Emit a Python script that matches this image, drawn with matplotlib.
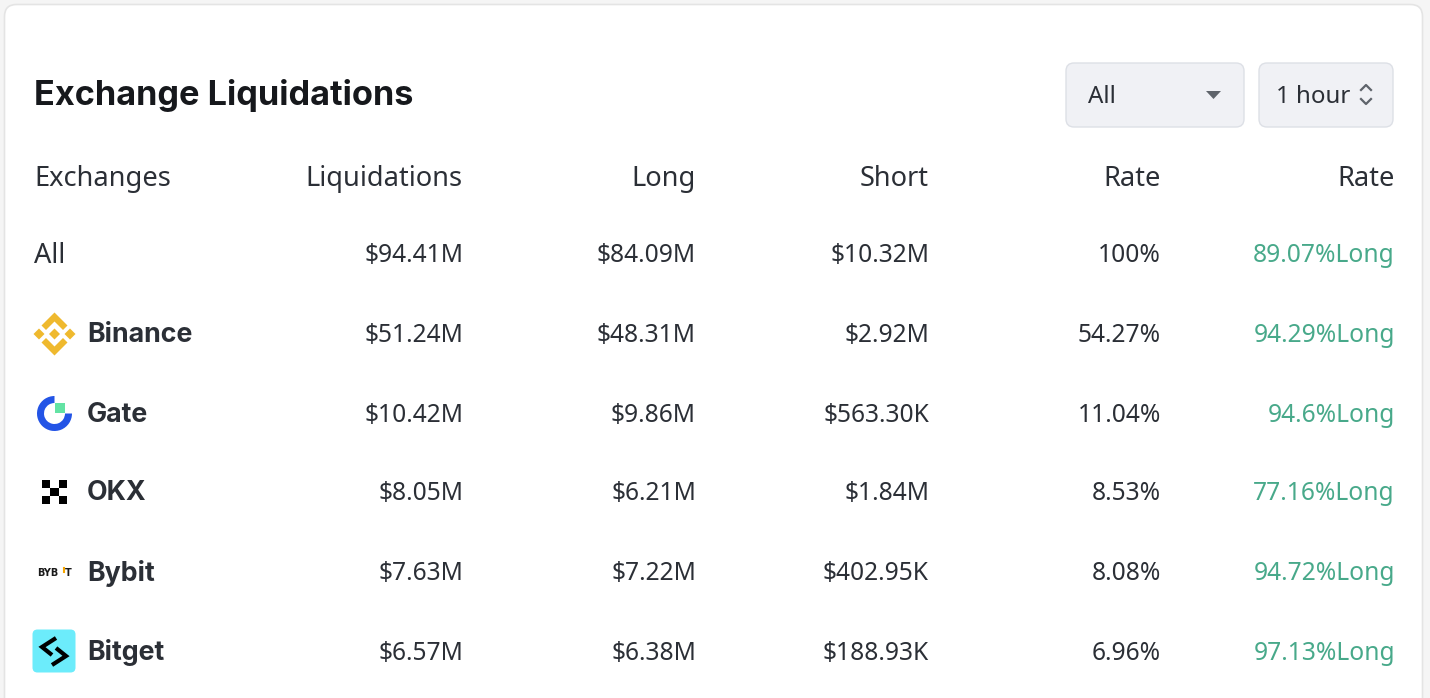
import matplotlib
matplotlib.use("Agg")
import matplotlib.pyplot as plt
from matplotlib.patches import FancyBboxPatch, Polygon, Wedge, Rectangle
from matplotlib.lines import Line2D

title = "Exchange Liquidations"
headers = ["Exchanges", "Liquidations", "Long", "Short", "Rate", "Rate"]
exchanges = ["All", "Binance", "Gate", "OKX", "Bybit", "Bitget"]
liquidations = ["$94.41M", "$51.24M", "$10.42M", "$8.05M", "$7.63M", "$6.57M"]
longs = ["$84.09M", "$48.31M", "$9.86M", "$6.21M", "$7.22M", "$6.38M"]
shorts = ["$10.32M", "$2.92M", "$563.30K", "$1.84M", "$402.95K", "$188.93K"]
rates = ["100%", "54.27%", "11.04%", "8.53%", "8.08%", "6.96%"]
long_rates = ["89.07%Long", "94.29%Long", "94.6%Long", "77.16%Long", "94.72%Long", "97.13%Long"]
dropdown_exchange = "All"
dropdown_period = "1 hour"

W, H = 1430, 698
fig = plt.figure(figsize=(W / 100, H / 100), dpi=100)
fig.patch.set_facecolor("#f5f5f5")
ax = fig.add_axes([0, 0, 1, 1])
ax.set_xlim(0, W)
ax.set_ylim(H, 0)
ax.axis("off")

BODY = ["Noto Sans", "DejaVu Sans"]
TITLE = ["Inter", "DejaVu Sans"]
DARK = "#2b2f36"
GREEN = "#48a98a"

# card
ax.add_patch(FancyBboxPatch((4.5, 4.5), 1418, 760, boxstyle="round,pad=0,rounding_size=12",
                            fc="white", ec="#e4e4e4", lw=1.2))

ax.text(34, 96, title, fontsize=24.7, fontweight="bold", family=TITLE, color="#16181c",
        va="center", ha="left")

# dropdowns
for (x0, x1), label in [((1066, 1244), dropdown_exchange), ((1259, 1393), dropdown_period)]:
    ax.add_patch(FancyBboxPatch((x0, 63), x1 - x0, 64, boxstyle="round,pad=0,rounding_size=8",
                                fc="#f0f1f5", ec="#dde0e6", lw=1.0))
    ax.text(x0 + (22 if label == dropdown_exchange else 17), 97, label, fontsize=17.3,
            family=BODY, color=DARK, va="center", ha="left")
ax.add_patch(Polygon([(1206, 91), (1221, 91), (1213.5, 99)], closed=True, fc="#5f646b", ec="none"))
ax.add_line(Line2D([1361, 1366, 1371], [90, 85, 90], color="#5f646b", lw=1.6))
ax.add_line(Line2D([1361, 1366, 1371], [99, 104, 99], color="#5f646b", lw=1.6))

# columns
right_x = [463, 696, 929, 1161, 1395]
header_y = 179
row_y = [256, 336, 415, 494, 574, 653]

ax.text(34, header_y, headers[0], fontsize=19.6, family=BODY, color=DARK, va="center", ha="left")
for h, rx in zip(headers[1:], right_x):
    ax.text(rx, header_y, h, fontsize=19.6, family=BODY, color=DARK, va="center", ha="right")

cols = [liquidations, longs, shorts, rates, long_rates]
for i, y in enumerate(row_y):
    name = exchanges[i]
    if i == 0:
        ax.text(34, y, name, fontsize=19.6, family=BODY, color=DARK, va="center", ha="left")
    else:
        ax.text(87, y - 0.5, name, fontsize=19.3, fontweight="bold", family=TITLE, color=DARK,
                va="center", ha="left")
    for j, (col, rx) in enumerate(zip(cols, right_x)):
        ax.text(rx, y, col[i], fontsize=17.7, family=BODY,
                color=GREEN if j == 4 else DARK, va="center", ha="right")

# logos (pixel positions of the drawn icons)
ly = [r - 2 for r in row_y]
# Binance
cx, cy = 54.5, ly[1]
gold = "#efb92e"
def diamond(x, y, r):
    return Polygon([(x, y - r), (x + r, y), (x, y + r), (x - r, y)], closed=True, fc=gold, ec="none")
ax.add_patch(diamond(cx, cy, 5.5))
ax.add_patch(diamond(cx - 15.5, cy, 5.5))
ax.add_patch(diamond(cx + 15.5, cy, 5.5))
ax.add_patch(Polygon([(cx, cy - 21.5), (cx + 13, cy - 8.5), (cx + 8.5, cy - 4), (cx, cy - 12.5),
                      (cx - 8.5, cy - 4), (cx - 13, cy - 8.5)], closed=True, fc=gold, ec="none"))
ax.add_patch(Polygon([(cx, cy + 21.5), (cx + 13, cy + 8.5), (cx + 8.5, cy + 4), (cx, cy + 12.5),
                      (cx - 8.5, cy + 4), (cx - 13, cy + 8.5)], closed=True, fc=gold, ec="none"))

# Gate
cx, cy = 54.5, ly[2] + 0.5
ax.add_patch(Wedge((cx, cy), 17.5, 0, 270, width=7.0, fc="#2354e6", ec="none"))
ax.add_patch(Rectangle((cx + 0.5, cy - 10.5), 10, 10, fc="#63e3a4", ec="none"))

# OKX
cx, cy = 54.5, ly[3]
s = 8.2
for dx, dy in [(-1, -1), (1, -1), (0, 0), (-1, 1), (1, 1)]:
    ax.add_patch(Rectangle((cx + dx * s - s / 2, cy + dy * s - s / 2), s, s, fc="black", ec="none"))

# Bybit
cy = ly[4]
ax.text(37.5, cy + 1.5, "BYB", fontsize=7, fontweight="bold", family=["DejaVu Sans"],
        color="#1a1a1a", va="center", ha="left")
ax.add_line(Line2D([63.5, 63.5], [cy - 4.5, cy], color="#f7a600", lw=1.5))
ax.text(65, cy + 1.5, "T", fontsize=7, fontweight="bold", family=["DejaVu Sans"],
        color="#1a1a1a", va="center", ha="left")

# Bitget
cy = ly[5]
ax.add_patch(FancyBboxPatch((32.5, cy - 21.5), 43, 43, boxstyle="round,pad=0,rounding_size=5",
                            fc="#6cecfb", ec="none"))
ax.add_line(Line2D([56, 42, 52], [cy - 13, cy - 4, cy + 4], color="black", lw=3.0,
                   solid_capstyle="butt", solid_joinstyle="miter"))
ax.add_line(Line2D([56, 66, 52], [cy - 3, cy + 5, cy + 14], color="black", lw=3.0,
                   solid_capstyle="butt", solid_joinstyle="miter"))

fig.savefig("out.png", dpi=100, facecolor=fig.get_facecolor())
